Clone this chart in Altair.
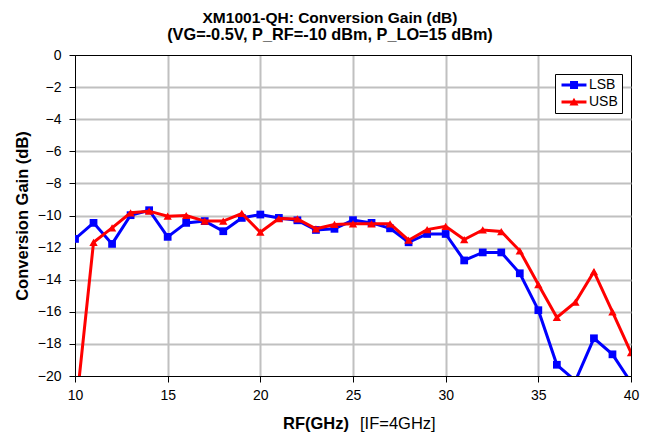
import altair as alt
import pandas as pd

# ---- data ----
freq_ghz = [10, 11, 12, 13, 14, 15, 16, 17, 18, 19, 20, 21, 22, 23, 24, 25,
            26, 27, 28, 29, 30, 31, 32, 33, 34, 35, 36, 37, 38, 39, 40]
lsb_db = [-11.46, -10.46, -11.77, -9.98, -9.67, -11.33, -10.46, -10.35, -10.98, -10.15,
          -9.94, -10.15, -10.30, -10.90, -10.83, -10.29, -10.46, -10.80, -11.67, -11.15,
          -11.15, -12.80, -12.30, -12.30, -13.60, -15.90, -19.30, -20.30, -17.65, -18.65,
          -20.40]
usb_db = [-22.6, -11.67, -10.77, -9.83, -9.73, -10.04, -10.00, -10.35, -10.35, -9.875,
          -11.04, -10.19, -10.21, -10.83, -10.56, -10.52, -10.52, -10.52, -11.54, -10.88,
          -10.67, -11.50, -10.90, -11.00, -12.20, -14.30, -16.35, -15.40, -13.50, -16.00,
          -18.55]
series_names = ["LSB", "USB"]
series_colors = ["#0000FF", "#FF0000"]
x_ticks = [10, 15, 20, 25, 30, 35, 40]
y_ticks = [-20, -18, -16, -14, -12, -10, -8, -6, -4, -2, 0]
title_lines = ["XM1001-QH: Conversion Gain (dB)", "(VG=-0.5V, P_RF=-10 dBm, P_LO=15 dBm)"]
x_title_bold = ["RF(GHz)"]
x_title_plain = ["[IF=4GHz]"]
y_title = "Conversion Gain (dB)"

df = pd.DataFrame({
    "freq": freq_ghz + freq_ghz,
    "gain": lsb_db + usb_db,
    "series": [series_names[0]] * len(freq_ghz) + [series_names[1]] * len(freq_ghz),
})

FONT = "Liberation Sans"
GRID = "#C0C0C0"

def edge_color(lo, hi):
    return {"condition": {"test": f"datum.value == {lo} || datum.value == {hi}",
                          "value": "black"}, "value": GRID}

def edge_width(lo, hi):
    return {"condition": {"test": f"datum.value == {lo} || datum.value == {hi}",
                          "value": 1}, "value": 2}

common_axis = dict(grid=True, tickSize=6, tickColor="black", tickWidth=1,
                   domainColor="black", domainWidth=1,
                   labelFont=FONT, labelFontSize=14, labelColor="black")

x_enc = alt.X("freq:Q",
              scale=alt.Scale(domain=[10, 40], nice=False, zero=False),
              axis=alt.Axis(values=x_ticks, title=None, labelPadding=6,
                            labelFlush=False,
                            gridColor=edge_color(10, 40), gridWidth=edge_width(10, 40),
                            **common_axis))
y_enc = alt.Y("gain:Q",
              scale=alt.Scale(domain=[-20, 0], nice=False, zero=False),
              axis=alt.Axis(values=y_ticks, title=y_title, labelPadding=8,
                            labelFlush=False,
                            gridColor=edge_color(-20, 0), gridWidth=edge_width(-20, 0),
                            titleFont=FONT, titleFontSize=16.5,
                            titleFontWeight="bold", titleColor="black",
                            titleAngle=270, titleX=-53, titleY=160.5,
                            titleAlign="center", titleBaseline="middle",
                            **common_axis))

base = alt.Chart(df).encode(x=x_enc, y=y_enc)

def series_layers(name, color, shape, size):
    sub = base.transform_filter(alt.datum.series == name)
    line = sub.mark_line(color=color, strokeWidth=3, clip=True)
    pts = sub.mark_point(shape=shape, filled=True, color=color, size=size,
                         opacity=1, clip=True)
    return [line, pts]

layers = []
layers += series_layers(series_names[0], series_colors[0], "square", 60)
layers += series_layers(series_names[1], series_colors[1], "triangle-up", 70)

# legend symbols: short line with marker (unit = 6.5 px, symbol column 13 px)
legend_paths = [
    "M-0.69,-0.23H3.15V0.23H-0.69Z M0.62,-0.62H1.85V0.62H0.62Z",
    "M-0.69,-0.23H3.15V0.23H-0.69Z M1.23,-0.65L1.93,0.55H0.53Z",
]
leg = alt.Legend(orient="none", legendX=480, legendY=19, title=None,
                 strokeColor="black", fillColor="white", padding=4,
                 labelFont=FONT, labelFontSize=14, labelColor="black",
                 symbolSize=169, symbolStrokeWidth=0, labelOffset=16,
                 symbolOpacity=1, rowPadding=3)
legend_layer = base.transform_filter("false").mark_point(
    filled=True, opacity=1, size=169).encode(
    color=alt.Color("series:N", scale=alt.Scale(domain=series_names, range=series_colors),
                    legend=leg),
    shape=alt.Shape("series:N", scale=alt.Scale(domain=series_names, range=legend_paths),
                    legend=leg),
)
layers.append(legend_layer)

xt_bold = alt.Chart(pd.DataFrame({"t": x_title_bold})).mark_text(
    align="left", baseline="alphabetic", font=FONT, fontWeight="bold",
    fontSize=16.5, color="black").encode(
    x=alt.value(208), y=alt.value(374), text="t:N")
xt_plain = alt.Chart(pd.DataFrame({"t": x_title_plain})).mark_text(
    align="left", baseline="alphabetic", font=FONT, fontWeight="normal",
    fontSize=16.5, color="black").encode(
    x=alt.value(285), y=alt.value(374), text="t:N")
layers += [xt_bold, xt_plain]

chart = alt.layer(*layers).properties(
    width=556, height=321,
    title=alt.TitleParams(text=title_lines[0], subtitle=title_lines[1],
                          anchor="middle", frame="group", dx=-23, offset=5,
                          font=FONT, fontSize=15.5, fontWeight="bold", color="black",
                          subtitleFont=FONT, subtitleFontSize=16.3,
                          subtitleFontWeight="bold", subtitleColor="black",
                          subtitlePadding=0),
    autosize=alt.AutoSizeParams(type="none"),
    padding={"left": 67, "top": 47, "right": 12, "bottom": 56},
).configure_view(
    stroke="black", strokeWidth=1
).configure(background="white")

chart.save("out.html", embed_options={"renderer": "svg", "actions": False})
